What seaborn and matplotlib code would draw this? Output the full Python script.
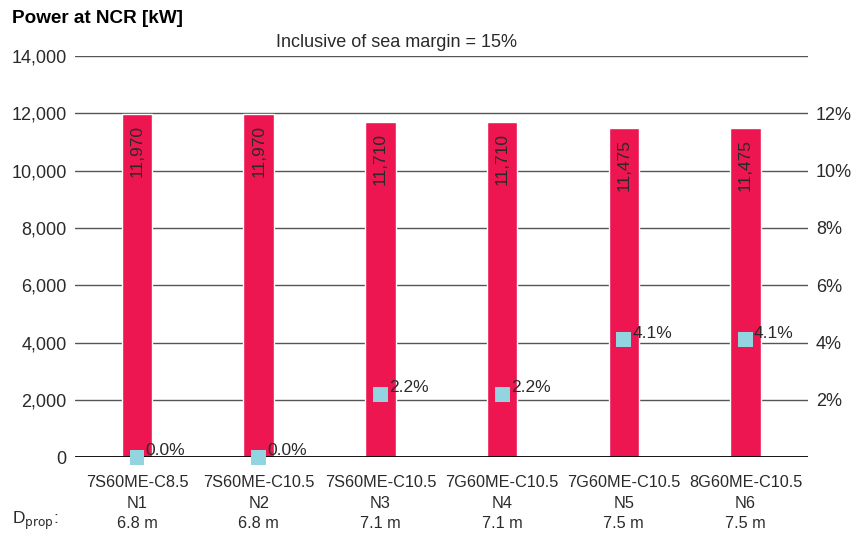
import matplotlib
matplotlib.use("Agg")
import matplotlib.pyplot as plt
import seaborn as sns
import pandas as pd

engines = ["7S60ME-C8.5", "7S60ME-C10.5", "7S60ME-C10.5", "7G60ME-C10.5", "7G60ME-C10.5", "8G60ME-C10.5"]
cases = ["N1", "N2", "N3", "N4", "N5", "N6"]
dprop = ["6.8 m", "6.8 m", "7.1 m", "7.1 m", "7.5 m", "7.5 m"]
power_kw = [11970, 11970, 11710, 11710, 11475, 11475]
saving_pct = [0.0, 0.0, 2.2, 2.2, 4.1, 4.1]

bar_color = "#EE1651"
marker_color = "#93D4E1"
text_color = "#2a2a2a"

sns.set_theme(style="white")
plt.rcParams["font.family"] = ["Liberation Sans", "DejaVu Sans"]

df = pd.DataFrame({"case": cases, "power": power_kw, "pct": saving_pct})

fig = plt.figure(figsize=(8.61, 5.34), dpi=100)
ax = fig.add_axes([0.087, 0.144, 0.851, 0.751])

sns.barplot(data=df, x="case", y="power", color=bar_color, width=0.25,
            saturation=1, ax=ax, zorder=3)
ax.set_xlim(-0.51, 5.51)
ax.set_ylim(0, 14000)
ax.set_yticks(range(0, 14001, 2000))
ax.set_yticklabels([f"{v:,}" for v in range(0, 14001, 2000)])
ax.yaxis.grid(True, color="#555555", linewidth=1.0, zorder=0)
ax.axhline(0, color="black", linewidth=2, zorder=4)
for s in ax.spines.values():
    s.set_visible(False)
ax.tick_params(axis="y", length=0, pad=6, labelsize=13, labelcolor=text_color)
ax.tick_params(axis="x", length=0, pad=13, labelsize=11.7, labelcolor=text_color)
ax.set_xticks(range(len(cases)))
ax.set_xticklabels([f"{e}\n{c}\n{d}" for e, c, d in zip(engines, cases, dprop)],
                   linespacing=1.45)
ax.set_xlabel("")
ax.set_ylabel("")

for i, p in enumerate(power_kw):
    ax.text(i, p - 380, f"{p:,}", rotation=90, ha="center", va="top",
            fontsize=12.5, color=text_color, zorder=5)

ax2 = ax.twinx()
ax2.set_ylim(0, 14)
ax2.set_yticks(range(2, 13, 2))
ax2.set_yticklabels([f"{v}%" for v in range(2, 13, 2)])
ax2.tick_params(axis="y", length=0, pad=6, labelsize=13, labelcolor=text_color)
for s in ax2.spines.values():
    s.set_visible(False)
sns.scatterplot(x=list(range(len(cases))), y=saving_pct, marker="s", s=115,
                color=marker_color, edgecolor="none", ax=ax2, zorder=6,
                clip_on=False)
for i, v in enumerate(saving_pct):
    ax2.text(i + 0.07, v + 0.22, f"{v:.1f}%", ha="left", va="center",
             fontsize=12.5, color=text_color)

fig.text(0.014, 0.965, "Power at NCR [kW]", fontsize=13.6, fontweight="bold",
         color="black", ha="left", va="center")
fig.text(0.461, 0.921, "Inclusive of sea margin = 15%", fontsize=13,
         color=text_color, ha="center", va="center")
fig.text(0.014, 0.025, r"D$_{\mathrm{prop}}$:", fontsize=12.5, color=text_color,
         ha="left", va="center")

fig.savefig("out.png", dpi=100)
